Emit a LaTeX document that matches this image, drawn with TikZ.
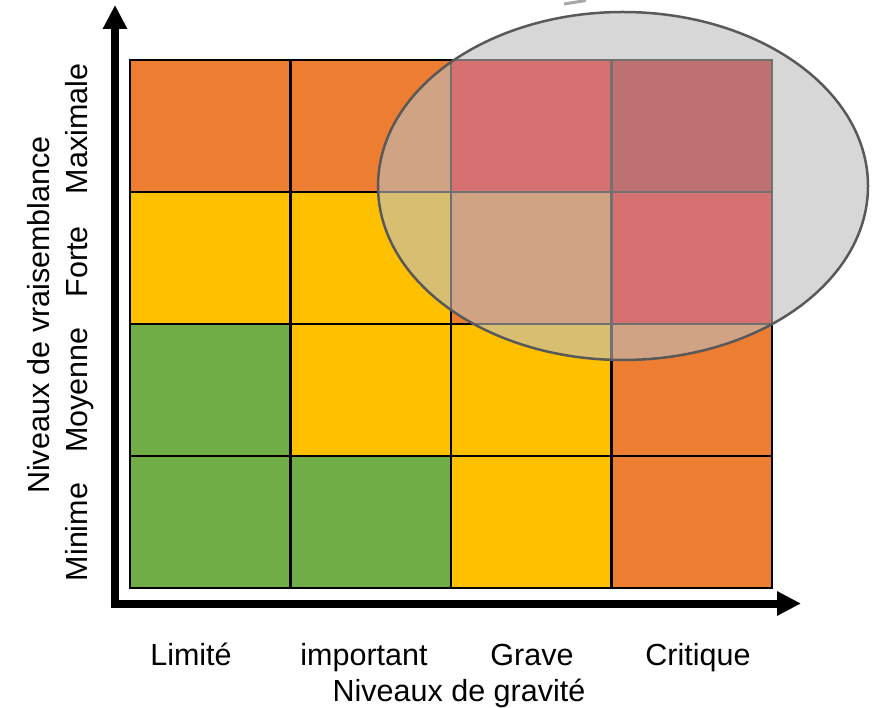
\documentclass[tikz,border=0pt]{standalone}
\usepackage{fontspec}
\setmainfont{Liberation Sans}
\usetikzlibrary{arrows.meta}
\definecolor{cOrange}{HTML}{ED7D31}
\definecolor{cYellow}{HTML}{FFC000}
\definecolor{cGreen}{HTML}{70AD47}
\definecolor{cRed}{HTML}{FF0000}
\definecolor{cDark}{HTML}{C00000}
\definecolor{cVeil}{HTML}{BDBDBD}
\definecolor{cEdge}{HTML}{595959}
\definecolor{cFrag}{HTML}{A6A6A6}
\begin{document}
\begin{tikzpicture}[x=1pt,y=1pt,
  cell/.style={draw=black,line width=2.5pt,minimum width=160.5pt,minimum height=132pt,inner sep=0pt,outer sep=0pt},
  lab/.style={font=\fontsize{30.5}{36}\selectfont,inner sep=0pt,anchor=base},
  vlab/.style={lab,rotate=90},
  axis/.style={line width=8pt,-{Triangle[length=24pt,width=23pt]}}]
\useasboundingbox (0,0) rectangle (872,-708);
% cells: rows top (1) to bottom (4), columns left (1) to right (4)
\foreach \r/\colA/\colB/\colC/\colD in {1/cOrange/cOrange/cRed/cDark,2/cYellow/cYellow/cOrange/cRed,3/cGreen/cYellow/cYellow/cOrange,4/cGreen/cGreen/cYellow/cOrange}{
  \foreach \c/\col in {1/\colA,2/\colB,3/\colC,4/\colD}{
    \node[cell,fill=\col] (c\r\c) at ({130+160.5*(\c-0.5)},{-60-132*(\r-0.5)}) {};
  }
}
% veil ellipse
\fill[cVeil,fill opacity=0.6] (623,-186) ellipse [x radius=245, y radius=174];
\draw[cEdge,line width=2.5pt] (623,-186) ellipse [x radius=245, y radius=174];
% fragment at top
\draw[cFrag,line width=3pt] (564,-4) -- (586,-0.5);
% axes
\coordinate (oy) at (115,-607);
\coordinate (ytip) at (115,-5);
\coordinate (ox) at (111,-603.5);
\coordinate (xtip) at (801,-603.5);
\draw[axis] (oy) -- (ytip);
\draw[axis] (ox) -- (xtip);
% x labels
\node[lab] (lLim) at (191,-665) {Limité};
\node[lab] (lImp) at (364,-665) {important};
\node[lab] (lGra) at (532,-665) {Grave};
\node[lab] (lCri) at (698,-665) {Critique};
\node[lab] (lGrav) at (459,-701) {Niveaux de gravité};
% y labels
\node[vlab] (lVrai) at (49,-315) {Niveaux de vraisemblance};
\node[vlab] (lMin) at (87,-532) {Minime};
\node[vlab] (lMoy) at (87,-390) {Moyenne};
\node[vlab] (lFor) at (87,-262) {Forte};
\node[vlab] (lMax) at (87,-129) {Maximale};
\end{tikzpicture}
\end{document}
